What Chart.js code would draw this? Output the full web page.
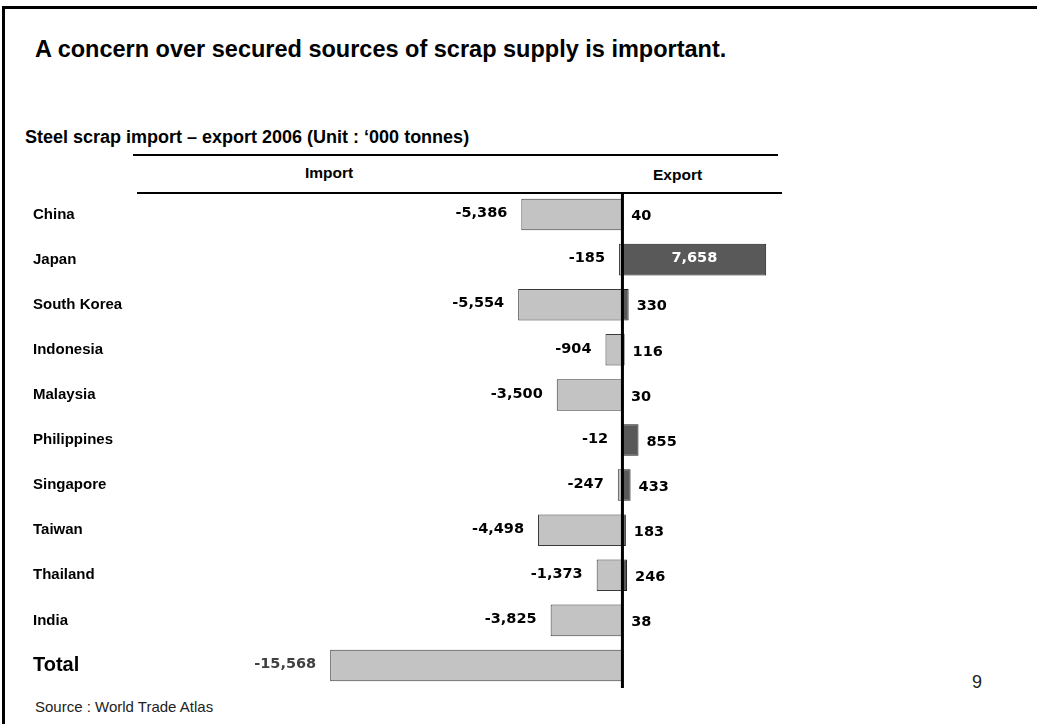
<!DOCTYPE html>
<html>
<head>
<meta charset="utf-8">
<title>Steel scrap import - export 2006</title>
<script src="https://cdn.jsdelivr.net/npm/chart.js@4.4.1/dist/chart.umd.min.js"></script>
<style>
    html, body { margin: 0; padding: 0; background: #fff; }
    body {
        width: 1037px; height: 724px; position: relative; overflow: hidden;
        font-family: "Liberation Sans", Arial, sans-serif; color: #000;
    }
    .frame {
        position: absolute; left: 2px; top: 6px; right: -10px; bottom: -10px;
        border-left: 3px solid #000; border-top: 3px solid #000;
    }
    .txt { position: absolute; white-space: nowrap; line-height: 1; }
    .rule { position: absolute; height: 2px; background: #000; }
    #chartBox { position: absolute; left: 0; top: 0; width: 1037px; height: 724px; }
</style>
</head>
<body>
<div class="frame"></div>

<div class="txt" style="left:35px; top:38px; font-size:23.5px; font-weight:bold;">A concern over secured sources of scrap supply is important.</div>
<div class="txt" style="left:25px; top:128px; font-size:18px; font-weight:bold;">Steel scrap import – export 2006 (Unit : ‘000 tonnes)</div>

<div class="rule" style="left:133px; width:645px; top:154px;"></div>
<div class="txt" style="left:305px; top:165px; font-size:15.5px; font-weight:bold;">Import</div>
<div class="txt" style="left:653px; top:167px; font-size:15.5px; font-weight:bold;">Export</div>
<div class="rule" style="left:137px; width:645px; top:192px;"></div>

<div class="txt" style="left:35px; top:699px; font-size:15px; color:#222;">Source : World Trade Atlas</div>
<div class="txt" style="left:972px; top:673px; font-size:18px; color:#222;">9</div>

<div id="chartBox"><canvas id="tradeChart" width="1037" height="724"></canvas></div>

<script>
// --- data ('000 tonnes, 2006) ---
const countries = ['China', 'Japan', 'South Korea', 'Indonesia', 'Malaysia', 'Philippines',
                   'Singapore', 'Taiwan', 'Thailand', 'India', 'Total'];
const importValues = [-5386, -185, -5554, -904, -3500, -12, -247, -4498, -1373, -3825, -15568];
const exportValues = [40, 7658, 330, 116, 30, 855, 433, 183, 246, 38, null];

// draws the zero line on top of the bars and the value labels
const valueLabels = {
    id: 'valueLabels',
    afterDatasetsDraw: function (chart) {
        const ctx = chart.ctx;
        const area = chart.chartArea;
        const zero = chart.scales.x.getPixelForValue(0);

        ctx.save();
        ctx.strokeStyle = '#000';
        ctx.lineWidth = 3;
        ctx.beginPath();
        ctx.moveTo(zero, area.top);
        ctx.lineTo(zero, area.bottom);
        ctx.stroke();

        ctx.font = 'bold 14.5px "DejaVu Sans", sans-serif';
        ctx.textBaseline = 'middle';

        // import labels, left of the bar
        chart.getDatasetMeta(0).data.forEach(function (bar, i) {
            const v = importValues[i];
            if (v === null) return;
            ctx.textAlign = 'right';
            ctx.fillStyle = countries[i] === 'Total' ? '#404040' : '#000';
            ctx.fillText(v.toLocaleString('en-US'), bar.x - 14, bar.y - 1);
        });

        // export labels, right of the bar (inside when the bar is wide)
        chart.getDatasetMeta(1).data.forEach(function (bar, i) {
            const v = exportValues[i];
            if (v === null) return;
            const txt = v.toLocaleString('en-US');
            if (bar.x - zero > 80) {
                ctx.textAlign = 'center';
                ctx.fillStyle = '#fff';
                ctx.fillText(txt, (bar.x + zero) / 2, bar.y - 1);
            } else {
                ctx.textAlign = 'left';
                ctx.fillStyle = '#000';
                ctx.fillText(txt, Math.max(zero + 8, bar.x + 8), bar.y + 2);
            }
        });
        ctx.restore();
    }
};

const canvas = document.getElementById('tradeChart');
new Chart(canvas.getContext('2d'), {
    type: 'bar',
    data: {
        labels: countries,
        datasets: [{
            label: 'Import',
            data: importValues,
            backgroundColor: '#c3c3c3',
            borderColor: '#3a3a3a',
            borderWidth: 1,
            borderSkipped: false,
            barPercentage: 0.7,
            categoryPercentage: 1
        }, {
            label: 'Export',
            data: exportValues,
            backgroundColor: '#595959',
            borderColor: '#1a1a1a',
            borderWidth: 1,
            borderSkipped: false,
            barPercentage: 0.7,
            categoryPercentage: 1
        }]
    },
    options: {
        indexAxis: 'y',
        responsive: false,
        animation: false,
        layout: { padding: { left: 33, right: 255, top: 192, bottom: 36 } },
        plugins: {
            legend: { display: false },
            tooltip: { enabled: false }
        },
        scales: {
            x: {
                stacked: true,
                min: -25700,
                max: 8500,
                display: false
            },
            y: {
                stacked: true,
                grid: { display: false },
                border: { display: false },
                afterFit: function (scale) { scale.width = 107; },
                ticks: {
                    autoSkip: false,
                    crossAlign: 'far',
                    color: '#000',
                    font: function (c) {
                        return c.index === countries.length - 1
                            ? { family: '"Liberation Sans", Arial, sans-serif', size: 20, weight: 'bold' }
                            : { family: '"Liberation Sans", Arial, sans-serif', size: 15, weight: 'bold' };
                    }
                }
            }
        }
    },
    plugins: [valueLabels]
});
</script>
</body>
</html>
